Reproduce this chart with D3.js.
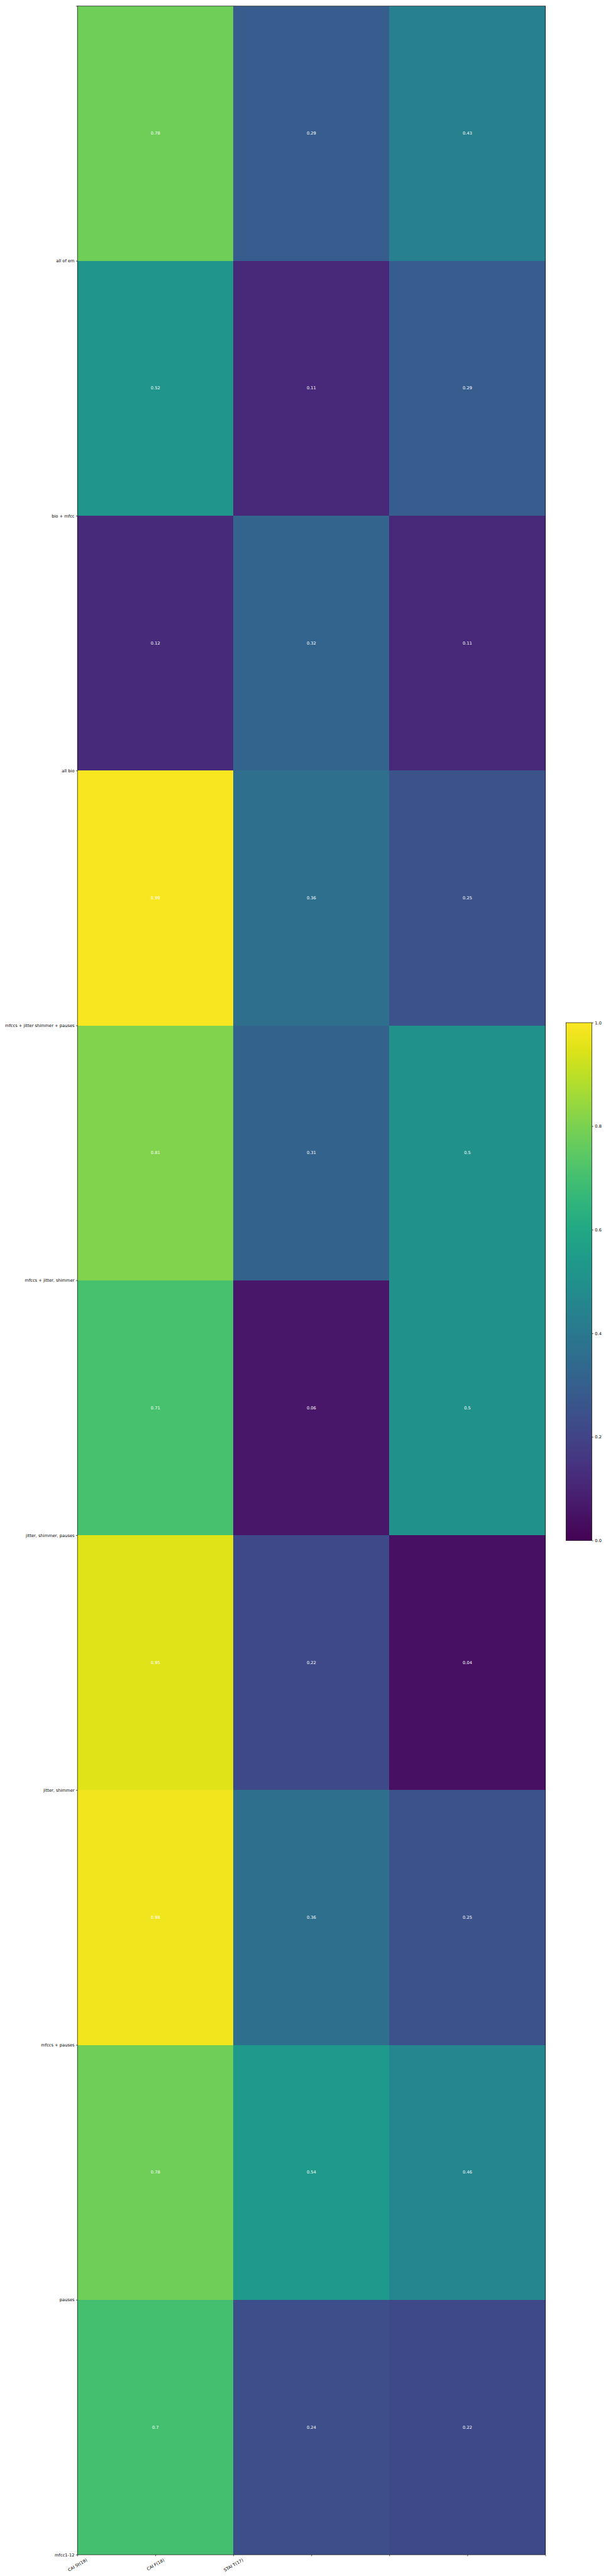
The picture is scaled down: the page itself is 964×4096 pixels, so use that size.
<!DOCTYPE html>
<html>
<head>
<meta charset="utf-8">
<script src="https://cdn.jsdelivr.net/npm/d3@7"></script>
<style>
  html, body { margin: 0; padding: 0; background: #fff; }
  svg { display: block; }
  text { font-family: "DejaVu Sans", sans-serif; }
</style>
</head>
<body>
<svg id="chart" width="964" height="4096"></svg>
<script>
// ---- data ----
const columns = ["CAI St(19)", "CAI F(18)", "STAI T(17)"];
const rowLabels = [
  "all of em",
  "bio + mfcc",
  "all bio",
  "mfccs + jitter shimmer + pauses",
  "mfccs + jitter, shimmer",
  "jitter, shimmer, pauses",
  "jitter, shimmer",
  "mfccs + pauses",
  "pauses",
  "mfcc1-12"
];
const col1 = [0.78, 0.52, 0.12, 0.99, 0.81, 0.71, 0.95, 0.98, 0.78, 0.7];
const col2 = [0.29, 0.11, 0.32, 0.36, 0.31, 0.06, 0.22, 0.36, 0.54, 0.24];
const col3 = [0.43, 0.29, 0.11, 0.25, 0.5, 0.5, 0.04, 0.25, 0.46, 0.22];
const xTickValues = [0, 0.5, 1, 1.5, 2, 2.5, 3];
const yTickValues = [0, 1, 2, 3, 4, 5, 6, 7, 8, 9, 10];
const cbarTicks = [0, 0.2, 0.4, 0.6, 0.8, 1.0];

(function () {
const series = [col1, col2, col3];
const cells = [];
series.forEach((vals, j) => vals.forEach((v, i) => cells.push({ row: i, col: j, v })));

// ---- layout (reference pixel units, scaled to window) ----
const S = 964 / 1440;
const svg = d3.select("#chart");
const g = svg.append("g").attr("transform", `scale(${S})`);

const pLeft = 184, pRight = 1296, pTop = 14.3, pBottom = 6068;
const x = d3.scaleLinear().domain([0, 3]).range([pLeft, pRight]);
const y = d3.scaleLinear().domain([0, 10]).range([pTop, pBottom]);
const color = d3.scaleSequential(d3.interpolateViridis).domain([0, 1]);

// cells
g.append("g").selectAll("rect").data(cells).join("rect")
  .attr("x", d => x(d.col))
  .attr("y", d => y(d.row))
  .attr("width", d => x(d.col + 1) - x(d.col))
  .attr("height", d => y(d.row + 1) - y(d.row))
  .attr("fill", d => color(d.v))
  .attr("shape-rendering", "crispEdges");

// cell annotations
g.append("g").selectAll("text").data(cells).join("text")
  .attr("x", d => x(d.col + 0.5))
  .attr("y", d => y(d.row + 0.5))
  .attr("text-anchor", "middle")
  .attr("dominant-baseline", "central")
  .attr("fill", "#ffffff")
  .attr("font-size", 10)
  .text(d => String(d.v));

// spines
g.append("rect")
  .attr("x", pLeft).attr("y", pTop)
  .attr("width", pRight - pLeft).attr("height", pBottom - pTop)
  .attr("fill", "none").attr("stroke", "#000").attr("stroke-width", 1);

// x axis
const xAxis = d3.axisBottom(x)
  .tickValues(xTickValues)
  .tickSize(3.5).tickPadding(3.5)
  .tickFormat((d, i) => columns[i] || "");
const gx = g.append("g").attr("transform", `translate(0,${pBottom})`).call(xAxis);
gx.select(".domain").remove();
gx.selectAll(".tick line").attr("stroke", "#000").attr("stroke-width", 1);
gx.selectAll(".tick text").each(function () {
  const t = d3.select(this);
  t.attr("font-size", 10).attr("font-family", "DejaVu Sans, sans-serif");
  const L = this.getComputedTextLength();
  const h = 10 * 1.17;
  const a = Math.PI / 6;
  const bboxH = L * Math.sin(a) + h * Math.cos(a);
  t.attr("y", null).attr("dy", null)
    .attr("fill", "#000")
    .attr("text-anchor", "middle")
    .attr("dominant-baseline", "central")
    .attr("transform", `translate(0,${7 + bboxH / 2}) rotate(-30)`);
});

// y axis
const yAxis = d3.axisLeft(y)
  .tickValues(yTickValues)
  .tickSize(3.5).tickPadding(3.5)
  .tickFormat(d => rowLabels[d - 1] || "");
const gy = g.append("g").attr("transform", `translate(${pLeft},0)`).call(yAxis);
gy.select(".domain").remove();
gy.selectAll(".tick line").attr("stroke", "#000").attr("stroke-width", 1);
gy.selectAll(".tick text")
  .attr("font-size", 10).attr("fill", "#000")
  .attr("font-family", "DejaVu Sans, sans-serif");

// colorbar
const cbLeft = 1345, cbWidth = 61.5, cbTop = 2429, cbBottom = 3659;
const cy = d3.scaleLinear().domain([0, 1]).range([cbBottom, cbTop]);
const defs = svg.append("defs");
const grad = defs.append("linearGradient").attr("id", "vgrad")
  .attr("x1", "0").attr("y1", "1").attr("x2", "0").attr("y2", "0");
d3.range(0, 1.0001, 0.05).forEach(t => {
  grad.append("stop").attr("offset", t).attr("stop-color", color(t));
});
g.append("rect")
  .attr("x", cbLeft).attr("y", cy(1))
  .attr("width", cbWidth).attr("height", cy(0) - cy(1))
  .attr("fill", "url(#vgrad)")
  .attr("stroke", "#000").attr("stroke-width", 1);
const cAxis = d3.axisRight(cy).tickValues(cbarTicks)
  .tickSize(3.5).tickPadding(3.5).tickFormat(d3.format(".1f"));
const gc = g.append("g").attr("transform", `translate(${cbLeft + cbWidth},0)`).call(cAxis);
gc.select(".domain").remove();
gc.selectAll(".tick line").attr("stroke", "#000").attr("stroke-width", 1);
gc.selectAll(".tick text")
  .attr("font-size", 10).attr("fill", "#000")
  .attr("font-family", "DejaVu Sans, sans-serif");
})();
</script>
</body>
</html>
